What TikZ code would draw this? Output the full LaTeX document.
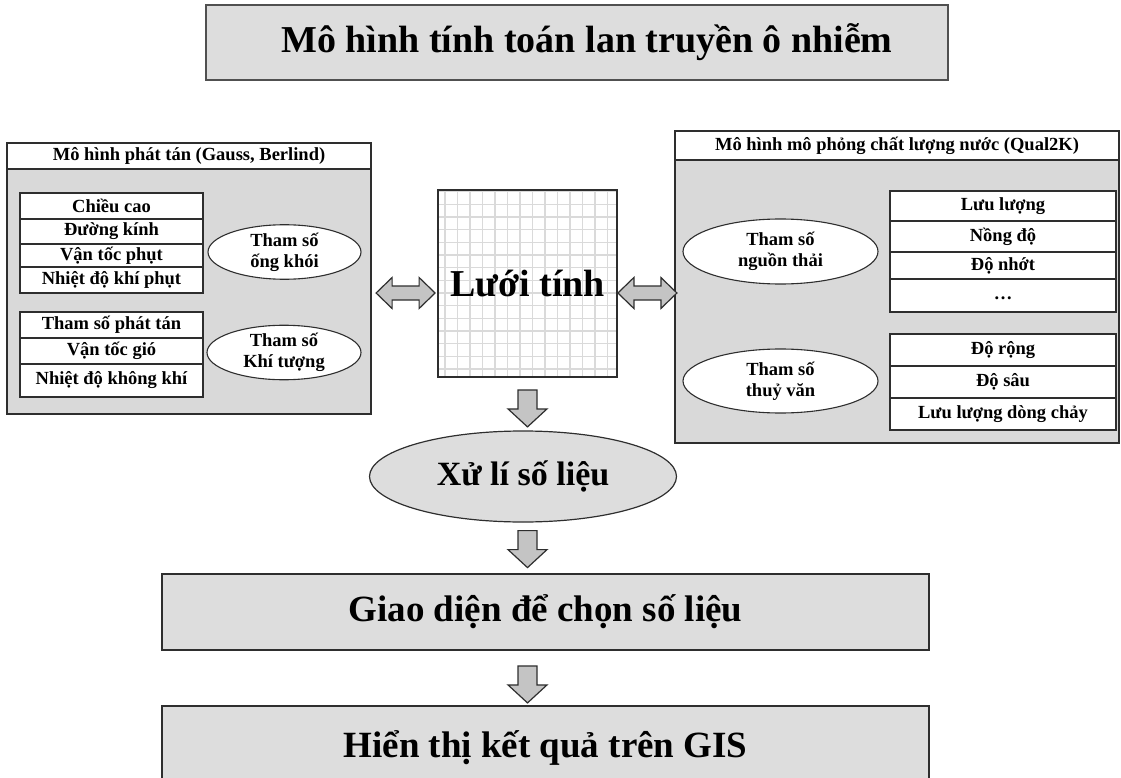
\documentclass[tikz,border=0pt]{standalone}
\usepackage{fontspec}
\setmainfont{Liberation Serif}
\usetikzlibrary{shapes.geometric,calc}

\definecolor{bd}{HTML}{2E2E2E}
\definecolor{titleborder}{HTML}{505050}
\definecolor{panelgray}{HTML}{D9D9D9}
\definecolor{boxgray}{HTML}{DDDDDD}
\definecolor{arrowgray}{HTML}{C4C4C4}
\definecolor{gridgray}{HTML}{DADADA}

\newcommand{\smallbf}{\fontsize{18.5}{21}\selectfont\bfseries}
\newcommand{\bigbf}{\fontsize{37}{40}\selectfont\bfseries}

\begin{document}
\begin{tikzpicture}[x=1pt,y=-1pt,
  panel/.style={draw=bd, fill=panelgray, line width=1.8pt, inner sep=0pt},
  header/.style={draw=bd, fill=white, line width=1.6pt, inner sep=0pt, font=\smallbf},
  cell/.style={draw=bd, fill=white, line width=1.6pt, inner sep=0pt, font=\smallbf},
  lcell/.style={cell, minimum width=183pt},
  rcell/.style={cell, minimum width=226pt},
  oval/.style={ellipse, draw=bd, fill=white, line width=1.1pt, inner sep=0pt,
    align=center, font=\smallbf},
  bigbox/.style={draw=bd, fill=boxgray, line width=1.8pt, inner sep=0pt,
    minimum width=767pt, font=\bigbf},
  blk/.style={draw=bd, fill=arrowgray, line width=1.2pt, line join=miter},
  gridline/.style={draw=gridgray, line width=1.4pt},
  downblk/.pic={\draw[blk] (-9.5,0) -- (9.5,0) -- (9.5,19) -- (19.5,19)
    -- (0,37) -- (-19.5,19) -- (-9.5,19) -- cycle;},
  dblblk/.pic={\draw[blk] (0,0) -- (16,-15.5) -- (16,-7) -- (43,-7)
    -- (43,-15.5) -- (59,0) -- (43,15.5) -- (43,7) -- (16,7) -- (16,15.5) -- cycle;}
]
\useasboundingbox (0,0) rectangle (1121,778);

% title
\node[draw=titleborder, fill=boxgray, line width=2.4pt, minimum width=742pt,
  minimum height=75pt, inner sep=0pt, font=\fontsize{38}{40}\selectfont\bfseries]
  (title) at (577,42.5) {\hspace{20pt}Mô hình tính toán lan truyền ô nhiễm};

% left panel: dispersion model
\node[panel, minimum width=364pt, minimum height=271pt] (lp) at (189,278.5) {};
\node[header, minimum width=364pt, minimum height=26pt] (lph) at (189,156)
  {Mô hình phát tán (Gauss, Berlind)};
\node[lcell, minimum height=26pt] (l1) at (111.5,206) {Chiều cao};
\node[lcell, minimum height=25pt] (l2) at (111.5,231.5) {Đường kính};
\node[lcell, minimum height=23pt] (l3) at (111.5,255.5) {Vận tốc phụt};
\node[lcell, minimum height=26pt] (l4) at (111.5,280) {Nhiệt độ khí phụt};
\node[lcell, minimum height=26pt] (l5) at (111.5,325) {Tham số phát tán};
\node[lcell, minimum height=26pt] (l6) at (111.5,351) {Vận tốc gió};
\node[lcell, minimum height=33pt] (l7) at (111.5,380.5) {Nhiệt độ không khí};
\node[oval, minimum width=153pt, minimum height=46pt] (lo1) at (284.5,252)
  {Tham số\\ống khói};
\node[oval, minimum width=154pt, minimum height=41pt] (lo2) at (284,352.5)
  {Tham số\\Khí tượng};

% right panel: water quality model
\node[panel, minimum width=444pt, minimum height=312pt] (rp) at (897,287) {};
\node[header, minimum width=444pt, minimum height=29pt] (rph) at (897,145.5)
  {Mô hình mô phỏng chất lượng nước (Qual2K)};
\node[rcell, minimum height=30pt] (r1) at (1003,206) {Lưu lượng};
\node[rcell, minimum height=31pt] (r2) at (1003,236.5) {Nồng độ};
\node[rcell, minimum height=27pt] (r3) at (1003,265.5) {Độ nhớt};
\node[rcell, minimum height=33pt] (r4) at (1003,295.5) {\raisebox{-4pt}[0pt][0pt]{…}};
\node[rcell, minimum height=32pt] (r5) at (1003,350) {Độ rộng};
\node[rcell, minimum height=32pt] (r6) at (1003,382) {Độ sâu};
\node[rcell, minimum height=32pt] (r7) at (1003,414) {Lưu lượng dòng chảy};
\node[oval, minimum width=195pt, minimum height=65pt] (ro1) at (780.5,251.5)
  {Tham số\\nguồn thải};
\node[oval, minimum width=195pt, minimum height=64pt] (ro2) at (780.5,381)
  {Tham số\\thuỷ văn};

% computational grid
\node[draw=bd, fill=white, line width=1.8pt, minimum width=179pt,
  minimum height=187pt, inner sep=0pt,
  font=\fontsize{38}{40}\selectfont\bfseries,
  path picture={
    \foreach \i in {0,...,13}
      \draw[gridline] ($(path picture bounding box.north west)+(7+12.5*\i,0)$) -- ++(0,190);
    \foreach \j in {0,...,14}
      \draw[gridline] ($(path picture bounding box.north west)+(0,1.7+12.67*\j)$) -- ++(182,0);
  }] (grid) at (527.5,283.5) {Lưới tính};

% links between the grid and the two models
\pic at ($(grid.west)+(-61,9.5)$) {dblblk};
\pic at ($(grid.east)+(0,9.5)$) {dblblk};

% processing chain
\node[ellipse, draw=bd, fill=boxgray, line width=1.2pt, inner sep=0pt,
  minimum width=307pt, minimum height=91pt,
  font=\fontsize{34}{36}\selectfont\bfseries] (proc) at (523,476.5) {Xử lí số liệu};
\node[bigbox, minimum height=76pt] (ui) at (545.5,612) {Giao diện để chọn số liệu};
\node[bigbox, minimum height=84pt] (gis) at (545.5,748) {Hiển thị kết quả trên GIS};

\pic at ($(grid.south)+(0,12)$) {downblk};
\pic at ($(grid.south |- proc.south)+(0,8)$) {downblk};
\pic at ($(grid.south |- ui.south)+(0,15)$) {downblk};
\end{tikzpicture}
\end{document}
